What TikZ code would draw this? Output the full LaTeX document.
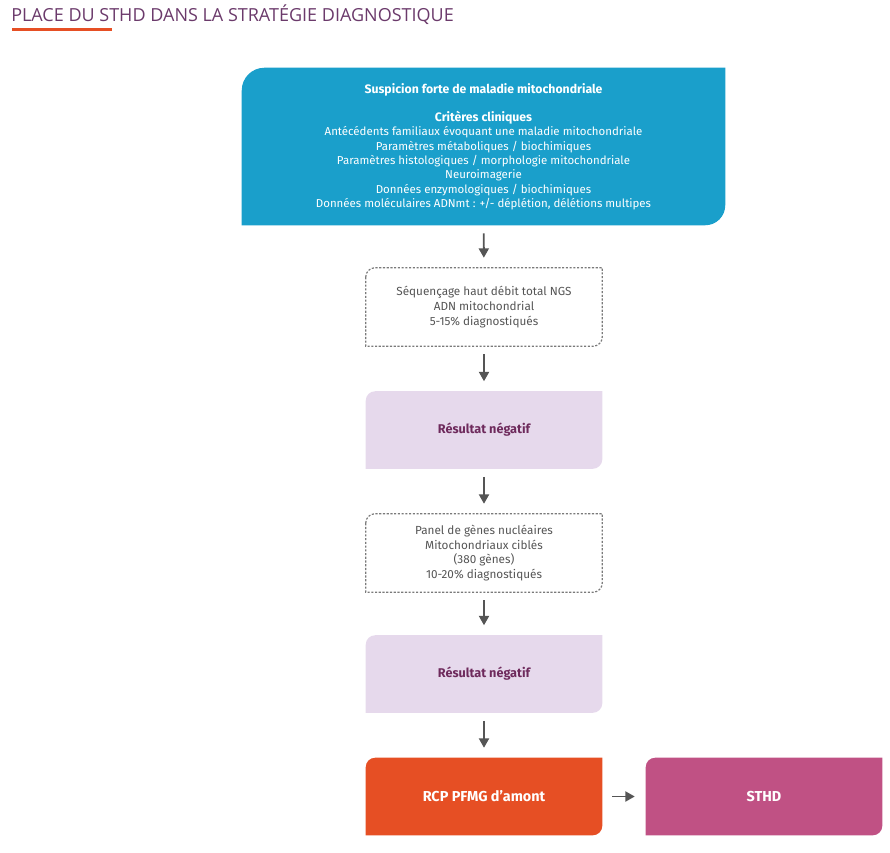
\documentclass[tikz,border=0pt]{standalone}
\usepackage{fontspec}
\setmainfont{Fira Sans}
\newfontfamily\titlefont{Open Sans}
\usetikzlibrary{arrows.meta,backgrounds}
\definecolor{cblue}{HTML}{1A9FCB}
\definecolor{clav}{HTML}{E6D9EC}
\definecolor{cpurp}{HTML}{6E2A5C}
\definecolor{corange}{HTML}{E64F24}
\definecolor{cpink}{HTML}{C05184}
\definecolor{cgray}{HTML}{555555}
\definecolor{cdash}{HTML}{7A7A7A}
\definecolor{ctitle}{HTML}{6B3A6B}
\newcommand\leaf[4]{%
  \path[#2] ([yshift=-#3]#1.north west) arc[start angle=180,end angle=90,radius=#3]
    -- (#1.north east) -- ([yshift=#4]#1.south east) arc[start angle=0,end angle=-90,radius=#4]
    -- (#1.south west) -- cycle;}
\tikzset{
  box/.style={inner sep=0pt, align=center, minimum width=177pt, minimum height=57.75pt,
    font=\fontsize{8.8}{11.1}\selectfont},
  boldbox/.style={box, font=\fontsize{9.5}{11}\selectfont\bfseries},
  bigbox/.style={box, font=\fontsize{10.8}{12}\selectfont\bfseries},
  arr/.style={cgray, line width=1.4pt, -{Triangle[width=7.5pt,length=7pt]}, shorten >=7.5pt, shorten <=6pt},
}
\begin{document}
\begin{tikzpicture}[x=0.75pt,y=-0.75pt]
\useasboundingbox (0,0) rectangle (890,853);
\node[anchor=west, text=ctitle, font=\titlefont\fontsize{13.5}{15}\selectfont, inner sep=0] (title) at (11,15) {PLACE DU STHD DANS LA STRATÉGIE DIAGNOSTIQUE};
\draw[corange, line width=1.7pt] (12,29.5) -- (112,29.5);

\node[box, minimum width=362.25pt, minimum height=117.75pt, text=white, font=\fontsize{8.6}{10.7}\selectfont] (blue) at (483.5,146.5)
 {{\fontsize{9.2}{10.7}\selectfont\bfseries Suspicion forte de maladie mitochondriale}\\[10.7pt]
  {\fontsize{9.2}{10.7}\selectfont\bfseries Critères cliniques}\\
  Antécédents familiaux évoquant une maladie mitochondriale\\
  Paramètres métaboliques / biochimiques\\
  Paramètres histologiques / morphologie mitochondriale\\
  Neuroimagerie\\
  Données enzymologiques / biochimiques\\
  Données moléculaires ADNmt : +/- déplétion, délétions multipes};
\node[box, minimum height=58.5pt, text=cgray] (d1) at (484,307)
 {Séquençage haut débit total NGS\\ ADN mitochondrial\\ 5-15\% diagnostiqués};
\node[boldbox, text=cpurp] (n1) at (484,430) {Résultat négatif};
\node[box, minimum height=58.5pt, text=cgray] (d2) at (484,553)
 {Panel de gènes nucléaires\\ Mitochondriaux ciblés\\ (380 gènes)\\ 10-20\% diagnostiqués};
\node[boldbox, text=cpurp] (n2) at (484,674) {Résultat négatif};
\node[bigbox, text=white] (rcp) at (484,796.5) {RCP PFMG d’amont};
\node[bigbox, text=white] (sthd) at (764,796.5) {STHD};

\begin{scope}[on background layer]
\leaf{blue}{fill=cblue}{17pt}{15pt}
\leaf{d1}{draw=cdash, line width=0.9pt, dash pattern=on 1.6pt off 1.2pt}{7pt}{7pt}
\leaf{n1}{fill=clav}{7pt}{7pt}
\leaf{d2}{draw=cdash, line width=0.9pt, dash pattern=on 1.6pt off 1.2pt}{7pt}{7pt}
\leaf{n2}{fill=clav}{7pt}{7pt}
\leaf{rcp}{fill=corange}{7pt}{7pt}
\leaf{sthd}{fill=cpink}{7pt}{7pt}
\end{scope}

\draw[arr] (blue) -- (d1);
\draw[arr] (d1) -- (n1);
\draw[arr] (n1) -- (d2);
\draw[arr] (d2) -- (n2);
\draw[arr] (n2) -- (rcp);
\draw[arr, shorten <=7.5pt, shorten >=8.25pt] (rcp) -- (sthd);
\end{tikzpicture}
\end{document}
